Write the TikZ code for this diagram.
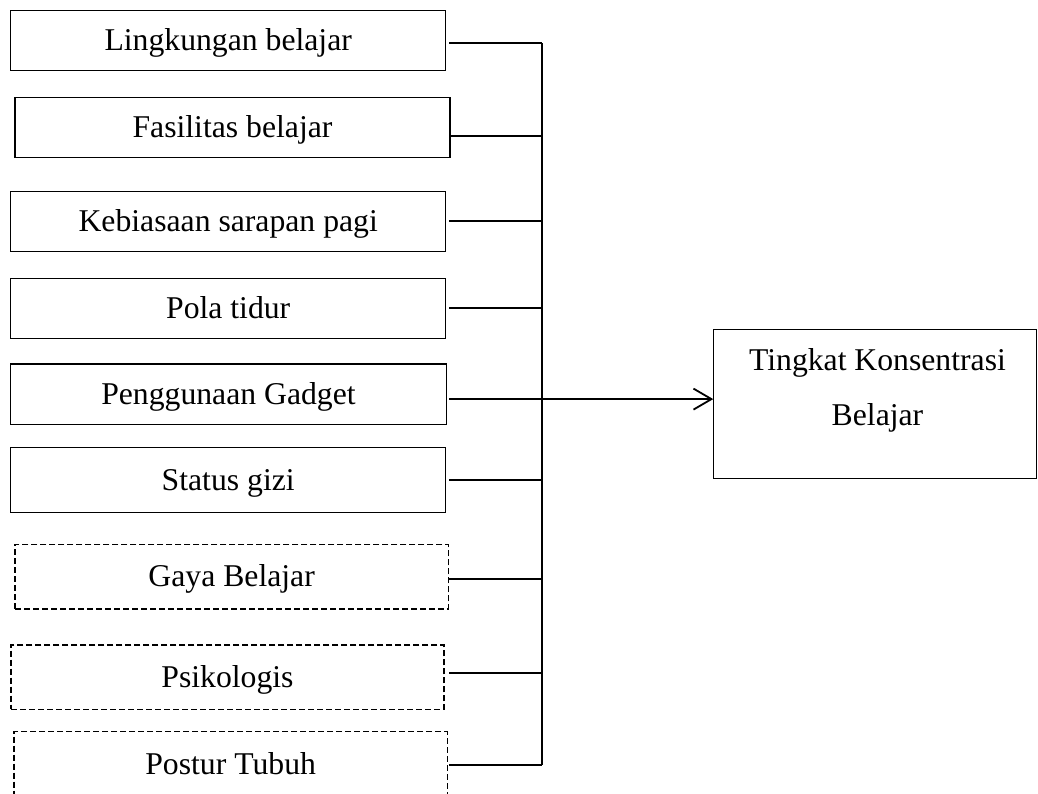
\documentclass[tikz,border=0pt]{standalone}
\usepackage{fontspec}
\setmainfont{Liberation Serif}
\usetikzlibrary{arrows.meta}
\begin{document}
\begin{tikzpicture}[x=1pt,y=-1pt,
  every node/.style={font=\fontsize{31.7}{38}\selectfont},
  box/.style={draw, line width=1.1pt, minimum width=435pt, minimum height=60pt, inner sep=0pt, text height=20pt, text depth=0pt},
  dbox/.style={box, dash pattern=on 6pt off 3pt},
  link/.style={line width=1.8pt},
  ]
\useasboundingbox (0,0) rectangle (1038,793);
\clip (0,0) rectangle (1038,793);
\node[box] (b1) at (228.2,40.85) {Lingkungan belajar};
\node[box] (b2) at (232.5,127.7) {Fasilitas belajar};
\node[box] (b3) at (228.2,221.7) {Kebiasaan sarapan pagi};
\node[box, minimum height=60.4pt] (b4) at (228.2,308.5) {Pola tidur};
\node[box, minimum width=435.6pt, minimum height=60.3pt] (b5) at (228.5,394.15) {Penggunaan Gadget};
\node[box, minimum height=64.6pt] (b6) at (228.2,480) {Status gizi};
\node[dbox, minimum width=433.3pt, minimum height=64.7pt] (b7) at (231.65,576.65) {Gaya Belajar};
\node[dbox, minimum width=433pt, minimum height=64.3pt] (b8) at (227.5,677.15) {Psikologis};
\node[dbox, minimum width=433.3pt, minimum height=64.5pt] (b9) at (230.65,764) {Postur Tubuh};
\node[draw, line width=1.1pt, minimum width=323pt, minimum height=149pt] (t) at (875.3,403.8) {};
\node[anchor=north, inner sep=0pt, align=center] (tl) at (877.5,348) {Tingkat Konsentrasi\\[17pt]Belajar};
\coordinate (c1) at (542.3,43.3);
\coordinate (c2) at (542.3,135.7);
\coordinate (c3) at (542.3,221);
\coordinate (c4) at (542.3,308.3);
\coordinate (hub) at (542.3,399.1);
\coordinate (c6) at (542.3,480.3);
\coordinate (c7) at (542.3,579);
\coordinate (c8) at (542.3,672.7);
\coordinate (c9) at (542.3,765);
\draw[link] (c1) -- (c9);
\draw[link, shorten <=2.8pt] (b1.east |- c1) -- (c1);
\draw[link, shorten <=-1.5pt] (b2.east |- c2) -- (c2);
\draw[link, shorten <=2.8pt] (b3.east |- c3) -- (c3);
\draw[link, shorten <=2.8pt] (b4.east |- c4) -- (c4);
\draw[link, shorten <=2.2pt] (b5.east |- hub) -- (hub);
\draw[link, shorten <=2.8pt] (b6.east |- c6) -- (c6);
\draw[link] (b7.east |- c7) -- (c7);
\draw[link, shorten <=4.5pt] (b8.east |- c8) -- (c8);
\draw[link, shorten <=1pt] (b9.east |- c9) -- (c9);
\draw[link, -{Straight Barb[length=18pt, width=21pt]}] (hub) -- (hub -| t.west);
\end{tikzpicture}
\end{document}
